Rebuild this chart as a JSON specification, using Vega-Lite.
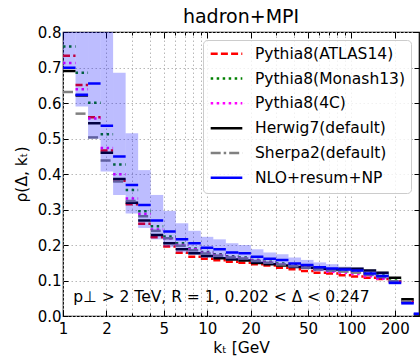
{
  "$schema": "https://vega.github.io/schema/vega-lite/v6.json",
  "width": 356,
  "height": 284,
  "autosize": {"type": "none"},
  "padding": {"left": 63, "top": 32, "right": 1, "bottom": 42},
  "title": {"text": "hadron+MPI", "fontSize": 19, "font": "DejaVu Sans", "fontWeight": "normal", "color": "black", "baseline": "alphabetic", "offset": -16.5, "anchor": "middle", "frame": "group"},
  "config": {
    "font": "DejaVu Sans",
    "view": {"stroke": "black", "strokeWidth": 1.2},
    "axis": {"domain": false, "minExtent": 0, "labelColor": "black", "titleColor": "black", "tickColor": "black", "labelFont": "DejaVu Sans", "titleFont": "DejaVu Sans", "titleFontWeight": "normal", "labelFontSize": 15, "titleFontSize": 15.5, "gridColor": "#b0b0b0", "gridDash": [1.5, 2.5], "gridWidth": 0.9, "labelFlush": false, "labelOverlap": false, "tickWidth": 1},
    "axisX": {"minExtent": 0},
    "axisY": {"minExtent": 0}
  },
  "data": {"values": [
    {"kt_lo": 1.0, "kt_hi": 1.2214, "atlas": 0.733, "monash": 0.759, "p4c": 0.713, "herwig": 0.690, "sherpa": 0.631, "nlo": 0.699, "nlo_lo": 0.697, "nlo_hi": 0.98},
    {"kt_lo": 1.2214, "kt_hi": 1.4918, "atlas": 0.651, "monash": 0.685, "p4c": 0.639, "herwig": 0.621, "sherpa": 0.570, "nlo": 0.623, "nlo_lo": 0.590, "nlo_hi": 0.95},
    {"kt_lo": 1.4918, "kt_hi": 1.8221, "atlas": 0.560, "monash": 0.601, "p4c": 0.556, "herwig": 0.543, "sherpa": 0.503, "nlo": 0.655, "nlo_lo": 0.499, "nlo_hi": 0.92},
    {"kt_lo": 1.8221, "kt_hi": 2.2255, "atlas": 0.466, "monash": 0.512, "p4c": 0.473, "herwig": 0.460, "sherpa": 0.438, "nlo": 0.536, "nlo_lo": 0.407, "nlo_hi": 0.85},
    {"kt_lo": 2.2255, "kt_hi": 2.7183, "atlas": 0.381, "monash": 0.427, "p4c": 0.399, "herwig": 0.386, "sherpa": 0.379, "nlo": 0.449, "nlo_lo": 0.341, "nlo_hi": 0.685},
    {"kt_lo": 2.7183, "kt_hi": 3.3201, "atlas": 0.315, "monash": 0.355, "p4c": 0.331, "herwig": 0.319, "sherpa": 0.324, "nlo": 0.369, "nlo_lo": 0.289, "nlo_hi": 0.515},
    {"kt_lo": 3.3201, "kt_hi": 4.0552, "atlas": 0.260, "monash": 0.295, "p4c": 0.287, "herwig": 0.269, "sherpa": 0.281, "nlo": 0.313, "nlo_lo": 0.248, "nlo_hi": 0.411},
    {"kt_lo": 4.0552, "kt_hi": 4.9530, "atlas": 0.222, "monash": 0.253, "p4c": 0.244, "herwig": 0.228, "sherpa": 0.240, "nlo": 0.269, "nlo_lo": 0.216, "nlo_hi": 0.341},
    {"kt_lo": 4.9530, "kt_hi": 6.0496, "atlas": 0.196, "monash": 0.224, "p4c": 0.218, "herwig": 0.205, "sherpa": 0.219, "nlo": 0.238, "nlo_lo": 0.194, "nlo_hi": 0.296},
    {"kt_lo": 6.0496, "kt_hi": 7.3891, "atlas": 0.178, "monash": 0.205, "p4c": 0.200, "herwig": 0.188, "sherpa": 0.198, "nlo": 0.216, "nlo_lo": 0.179, "nlo_hi": 0.261},
    {"kt_lo": 7.3891, "kt_hi": 9.0250, "atlas": 0.167, "monash": 0.190, "p4c": 0.188, "herwig": 0.177, "sherpa": 0.185, "nlo": 0.205, "nlo_lo": 0.172, "nlo_hi": 0.240},
    {"kt_lo": 9.0250, "kt_hi": 11.0232, "atlas": 0.161, "monash": 0.180, "p4c": 0.178, "herwig": 0.169, "sherpa": 0.176, "nlo": 0.192, "nlo_lo": 0.164, "nlo_hi": 0.223},
    {"kt_lo": 11.0232, "kt_hi": 13.4637, "atlas": 0.157, "monash": 0.174, "p4c": 0.172, "herwig": 0.163, "sherpa": 0.170, "nlo": 0.188, "nlo_lo": 0.163, "nlo_hi": 0.216},
    {"kt_lo": 13.4637, "kt_hi": 16.4446, "atlas": 0.153, "monash": 0.168, "p4c": 0.166, "herwig": 0.159, "sherpa": 0.165, "nlo": 0.179, "nlo_lo": 0.157, "nlo_hi": 0.205},
    {"kt_lo": 16.4446, "kt_hi": 20.0855, "atlas": 0.150, "monash": 0.165, "p4c": 0.163, "herwig": 0.156, "sherpa": 0.162, "nlo": 0.177, "nlo_lo": 0.157, "nlo_hi": 0.200},
    {"kt_lo": 20.0855, "kt_hi": 24.5325, "atlas": 0.146, "monash": 0.158, "p4c": 0.156, "herwig": 0.149, "sherpa": 0.155, "nlo": 0.167, "nlo_lo": 0.149, "nlo_hi": 0.188},
    {"kt_lo": 24.5325, "kt_hi": 29.9641, "atlas": 0.142, "monash": 0.153, "p4c": 0.151, "herwig": 0.146, "sherpa": 0.150, "nlo": 0.161, "nlo_lo": 0.145, "nlo_hi": 0.179},
    {"kt_lo": 29.9641, "kt_hi": 36.5982, "atlas": 0.136, "monash": 0.148, "p4c": 0.146, "herwig": 0.142, "sherpa": 0.145, "nlo": 0.158, "nlo_lo": 0.143, "nlo_hi": 0.174},
    {"kt_lo": 36.5982, "kt_hi": 44.7012, "atlas": 0.132, "monash": 0.143, "p4c": 0.141, "herwig": 0.138, "sherpa": 0.140, "nlo": 0.148, "nlo_lo": 0.135, "nlo_hi": 0.165},
    {"kt_lo": 44.7012, "kt_hi": 54.5982, "atlas": 0.127, "monash": 0.139, "p4c": 0.137, "herwig": 0.136, "sherpa": 0.136, "nlo": 0.144, "nlo_lo": 0.132, "nlo_hi": 0.158},
    {"kt_lo": 54.5982, "kt_hi": 66.6863, "atlas": 0.122, "monash": 0.134, "p4c": 0.131, "herwig": 0.133, "sherpa": 0.131, "nlo": 0.137, "nlo_lo": 0.126, "nlo_hi": 0.151},
    {"kt_lo": 66.6863, "kt_hi": 81.4509, "atlas": 0.120, "monash": 0.130, "p4c": 0.125, "herwig": 0.131, "sherpa": 0.128, "nlo": 0.134, "nlo_lo": 0.124, "nlo_hi": 0.146},
    {"kt_lo": 81.4509, "kt_hi": 99.4843, "atlas": 0.115, "monash": 0.127, "p4c": 0.122, "herwig": 0.133, "sherpa": 0.125, "nlo": 0.131, "nlo_lo": 0.126, "nlo_hi": 0.139},
    {"kt_lo": 99.4843, "kt_hi": 121.5104, "atlas": 0.111, "monash": 0.124, "p4c": 0.118, "herwig": 0.133, "sherpa": 0.122, "nlo": 0.128, "nlo_lo": 0.124, "nlo_hi": 0.137},
    {"kt_lo": 121.5104, "kt_hi": 148.4132, "atlas": 0.108, "monash": 0.120, "p4c": 0.112, "herwig": 0.128, "sherpa": 0.116, "nlo": 0.120, "nlo_lo": 0.112, "nlo_hi": 0.131},
    {"kt_lo": 148.4132, "kt_hi": 181.2722, "atlas": 0.104, "monash": 0.114, "p4c": 0.105, "herwig": 0.122, "sherpa": 0.110, "nlo": 0.113, "nlo_lo": 0.104, "nlo_hi": 0.125},
    {"kt_lo": 181.2722, "kt_hi": 221.4064, "atlas": 0.097, "monash": 0.100, "p4c": 0.096, "herwig": 0.108, "sherpa": 0.098, "nlo": 0.094, "nlo_lo": 0.088, "nlo_hi": 0.101},
    {"kt_lo": 221.4064, "kt_hi": 270.4264, "atlas": 0.040, "monash": 0.042, "p4c": 0.040, "herwig": 0.047, "sherpa": 0.041, "nlo": 0.036, "nlo_lo": 0.032, "nlo_hi": 0.042},
    {"kt_lo": 270.4264, "kt_hi": 330.2996, "atlas": null, "monash": null, "p4c": null, "herwig": 0.004, "sherpa": null, "nlo": 0.006, "nlo_lo": 0.002, "nlo_hi": 0.010}
  ]},
  "resolve": {"axis": {"x": "independent", "y": "independent"}},
  "layer": [
    {
      "transform": [{"fold": ["atlas", "monash", "p4c", "herwig", "sherpa"], "as": ["series", "v"]}],
      "mark": {"type": "rule", "strokeWidth": 2.5, "strokeCap": "butt", "clip": true},
      "encoding": {
        "x": {"field": "kt_lo", "type": "quantitative", "scale": {"type": "log", "domain": [1, 294], "nice": false, "clamp": true},
          "axis": {"orient": "bottom", "values": [1, 2, 3, 4, 5, 6, 7, 8, 9, 10, 20, 30, 40, 50, 60, 70, 80, 90, 100, 200], "grid": true, "tickSize": -3, "labelPadding": 8,
            "labelExpr": "indexof([1, 2, 5, 10, 20, 50, 100, 200], datum.value) >= 0 ? format(datum.value, 'd') : ''",
            "title": "kₜ [GeV", "titlePadding": 4}},
        "x2": {"field": "kt_hi"},
        "y": {"field": "v", "type": "quantitative", "scale": {"domain": [0, 0.8], "nice": false, "zero": false, "clamp": true},
          "axis": {"orient": "left", "values": [0, 0.1, 0.2, 0.3, 0.4, 0.5, 0.6, 0.7, 0.8], "format": ".1f", "grid": true, "tickSize": -5, "labelPadding": 7, "title": "ρ(Δ, kₜ)", "titlePadding": 8}},
        "color": {"field": "series", "type": "nominal",
          "scale": {"domain": ["atlas", "monash", "p4c", "herwig", "sherpa", "nlo"], "range": ["#ff0000", "#008000", "#ff00ff", "#000000", "#808080", "#0000ff"]},
          "legend": {"title": null, "orient": "top-right", "offset": 8, "labelFontSize": 15.5, "labelFont": "DejaVu Sans", "labelColor": "black", "symbolType": "stroke", "symbolSize": 1000, "symbolStrokeWidth": 2.5, "labelOffset": 11, "clipHeight": 15.5, "rowPadding": 7.8, "padding": 6, "fillColor": "rgba(255,255,255,0.8)", "strokeColor": "#cccccc", "cornerRadius": 4,
            "labelExpr": "datum.label == 'atlas' ? 'Pythia8(ATLAS14)' : datum.label == 'monash' ? 'Pythia8(Monash13)' : datum.label == 'p4c' ? 'Pythia8(4C)' : datum.label == 'herwig' ? 'Herwig7(default)' : datum.label == 'sherpa' ? 'Sherpa2(default)' : 'NLO+resum+NP'"}},
        "strokeDash": {"field": "series", "type": "nominal",
          "scale": {"domain": ["atlas", "monash", "p4c", "herwig", "sherpa", "nlo"], "range": [[7, 3.2], [2.5, 3.5], [2.5, 3.5], [1, 0], [10, 3, 2.5, 3], [1, 0]]},
          "legend": {"title": null, "orient": "top-right", "offset": 8, "labelFontSize": 15.5, "labelFont": "DejaVu Sans", "labelColor": "black", "symbolType": "stroke", "symbolSize": 1000, "symbolStrokeWidth": 2.5, "labelOffset": 11, "clipHeight": 15.5, "rowPadding": 7.8, "padding": 6, "fillColor": "rgba(255,255,255,0.8)", "strokeColor": "#cccccc", "cornerRadius": 4,
            "labelExpr": "datum.label == 'atlas' ? 'Pythia8(ATLAS14)' : datum.label == 'monash' ? 'Pythia8(Monash13)' : datum.label == 'p4c' ? 'Pythia8(4C)' : datum.label == 'herwig' ? 'Herwig7(default)' : datum.label == 'sherpa' ? 'Sherpa2(default)' : 'NLO+resum+NP'"}}
      }
    },
    {
      "transform": [{"fold": ["nlo"], "as": ["series", "v"]}],
      "mark": {"type": "rule", "strokeWidth": 2.5, "strokeCap": "butt", "clip": true},
      "encoding": {
        "x": {"field": "kt_lo", "type": "quantitative",
          "axis": {"orient": "bottom", "values": [1, 2, 5, 10, 20, 50, 100, 200], "grid": false, "labels": false, "tickSize": -6, "title": null}},
        "x2": {"field": "kt_hi"},
        "y": {"field": "v", "type": "quantitative",
          "axis": {"orient": "right", "values": [0, 0.1, 0.2, 0.3, 0.4, 0.5, 0.6, 0.7, 0.8], "grid": false, "labels": false, "tickSize": -5, "title": null}},
        "color": {"field": "series", "type": "nominal"},
        "strokeDash": {"field": "series", "type": "nominal"}
      }
    },
    {
      "mark": {"type": "rect", "color": "#0000ff", "opacity": 0.26, "clip": true},
      "encoding": {
        "x": {"field": "kt_lo", "type": "quantitative",
          "axis": {"orient": "top", "values": [1, 2, 3, 4, 5, 6, 7, 8, 9, 10, 20, 30, 40, 50, 60, 70, 80, 90, 100, 200], "grid": false, "labels": false, "tickSize": -3, "title": null}},
        "x2": {"field": "kt_hi"},
        "y": {"field": "nlo_lo", "type": "quantitative", "axis": null},
        "y2": {"field": "nlo_hi"}
      }
    },
    {
      "data": {"values": [{"label": "p⊥ > 2 TeV, R = 1, 0.202 < Δ < 0.247"}]},
      "mark": {"type": "text", "align": "left", "baseline": "alphabetic", "fontSize": 15.5, "font": "DejaVu Sans", "color": "black"},
      "encoding": {
        "x": {"datum": 1.18, "type": "quantitative",
          "axis": {"orient": "top", "values": [1, 2, 5, 10, 20, 50, 100, 200], "grid": false, "labels": false, "tickSize": -6, "title": null}},
        "y": {"datum": 0.039, "type": "quantitative", "axis": null},
        "text": {"field": "label"}
      }
    }
  ]
}
